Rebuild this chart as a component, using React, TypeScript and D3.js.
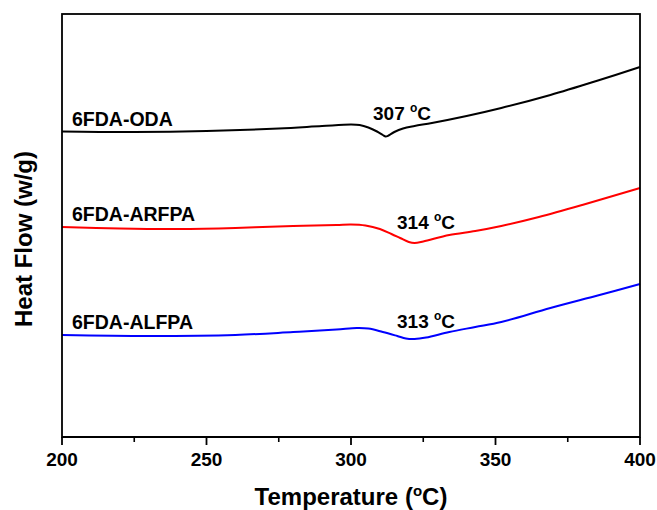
import * as d3 from "d3";

// temperature (°C) and heat flow (arbitrary, offset per trace)
const odaT = [200, 225, 250, 275, 290, 300, 303, 306, 309, 311, 312, 313, 315, 318, 322, 328, 340, 352, 369, 386, 400];
const odaHF = [3.055, 3.05, 3.06, 3.085, 3.11, 3.125, 3.12, 3.095, 3.055, 3.02, 3.005, 3.015, 3.05, 3.085, 3.11, 3.14, 3.21, 3.29, 3.42, 3.57, 3.7];

const arfpaT = [200, 220, 240, 260, 280, 295, 300, 305, 310, 314, 317, 320, 322, 325, 334, 343, 352, 365, 380, 400];
const arfpaHF = [2.1, 2.085, 2.08, 2.09, 2.11, 2.12, 2.125, 2.115, 2.08, 2.03, 1.99, 1.95, 1.94, 1.955, 2.02, 2.06, 2.11, 2.2, 2.32, 2.49];

const alfpaT = [200, 230, 260, 280, 295, 302, 306, 311, 316, 319, 322, 326, 334, 343, 352, 369, 386, 400];
const alfpaHF = [1.02, 1.01, 1.02, 1.05, 1.075, 1.09, 1.085, 1.05, 1.01, 0.985, 0.98, 0.995, 1.05, 1.1, 1.15, 1.29, 1.42, 1.53];

const seriesNames = ["6FDA-ODA", "6FDA-ARFPA", "6FDA-ALFPA"];
const tgLabels = ["307", "314", "313"];
const xTicks = [200, 250, 300, 350, 400];
const xMinorTicks = [225, 275, 325, 375];

const FONT = "'Liberation Sans', Arial, sans-serif";

export default function App() {
  const W = 657;
  const H = 510;
  const m = { left: 62, right: 17, top: 14, bottom: 73 };

  const x = d3.scaleLinear().domain([200, 400]).range([m.left, W - m.right]);
  const y = d3.scaleLinear().domain([0, 4.23]).range([H - m.bottom, m.top]);

  const line = d3
    .line<[number, number]>()
    .x((d) => x(d[0]))
    .y((d) => y(d[1]))
    .curve(d3.curveCatmullRom.alpha(0.5));

  const series = [
    { t: odaT, v: odaHF, color: "#000000" },
    { t: arfpaT, v: arfpaHF, color: "#ff0000" },
    { t: alfpaT, v: alfpaHF, color: "#0000ff" },
  ];
  const tgPos = [
    { x: 373, y: 120 },
    { x: 397, y: 229 },
    { x: 397, y: 328 },
  ];

  const bottom = H - m.bottom;

  return (
    <svg width={W} height={H} style={{ position: "absolute", left: 0, top: 0, background: "#fff" }}>
      {series.map((s, i) => (
        <path
          key={i}
          d={line(s.t.map((t, j) => [t, s.v[j]] as [number, number])) || ""}
          fill="none"
          stroke={s.color}
          strokeWidth={2}
        />
      ))}

      {/* frame */}
      <rect
        x={m.left}
        y={m.top}
        width={W - m.left - m.right}
        height={bottom - m.top}
        fill="none"
        stroke="#000"
        strokeWidth={1.8}
      />
      <line x1={m.left} x2={W - m.right} y1={bottom} y2={bottom} stroke="#000" strokeWidth={2.2} />

      {xTicks.map((t) => (
        <g key={t}>
          <line x1={x(t)} x2={x(t)} y1={bottom} y2={bottom + 8} stroke="#000" strokeWidth={1.8} />
          <text x={x(t)} y={466} textAnchor="middle" fontFamily={FONT} fontWeight="bold" fontSize={19}>
            {t}
          </text>
        </g>
      ))}
      {xMinorTicks.map((t) => (
        <line key={t} x1={x(t)} x2={x(t)} y1={bottom} y2={bottom + 5} stroke="#000" strokeWidth={1.6} />
      ))}

      {seriesNames.map((n, i) => (
        <text
          key={n}
          x={72}
          y={y(series[i].v[0]) - 6}
          fontFamily={FONT}
          fontWeight="bold"
          fontSize={19.5}
        >
          {n}
        </text>
      ))}

      {tgLabels.map((l, i) => (
        <text key={i} x={tgPos[i].x} y={tgPos[i].y} fontFamily={FONT} fontWeight="bold" fontSize={19}>
          {l}{" "}
          <tspan fontSize={12} dy={-8}>o</tspan>
          <tspan dy={8}>C</tspan>
        </text>
      ))}

      <text x={351} y={505} textAnchor="middle" fontFamily={FONT} fontWeight="bold" fontSize={24}>
        Temperature (<tspan fontSize={15} dy={-9}>o</tspan>
        <tspan dy={9}>C)</tspan>
      </text>

      <text
        transform="translate(32,239) rotate(-90)"
        textAnchor="middle"
        fontFamily={FONT}
        fontWeight="bold"
        fontSize={24}
      >
        Heat Flow (w/g)
      </text>
    </svg>
  );
}
